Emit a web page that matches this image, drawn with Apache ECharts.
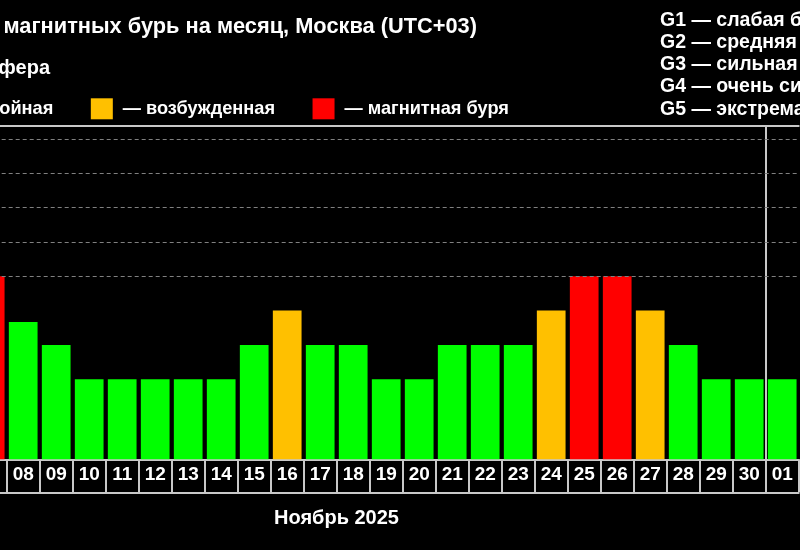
<!DOCTYPE html>
<html>
<head>
<meta charset="utf-8">
<script src="https://cdn.jsdelivr.net/npm/echarts@6/dist/echarts.min.js"></script>
<style>html,body{margin:0;padding:0;background:#000;}#chart{width:800px;height:550px;}</style>
</head>
<body>
<div id="chart"></div>
<script>
// Days shown (07 Nov .. 01 Dec)
const days = ['07','08','09','10','11','12','13','14','15','16','17','18','19','20','21','22','23','24','25','26','27','28','29','30','01'];
// Bar heights (index units)
const values = [5.33,4.0,3.33,2.33,2.33,2.33,2.33,2.33,3.33,4.33,3.33,3.33,2.33,2.33,3.33,3.33,3.33,4.33,5.33,5.33,4.33,3.33,2.33,2.33,2.33];
// State: 0 quiet, 1 active, 2 storm
const states = [2,0,0,0,0,0,0,0,0,1,0,0,0,0,0,0,0,1,2,2,1,0,0,0,0];
const stateNames = ['— спокойная','— возбужденная','— магнитная буря'];
const stateColors = ['#00ff00','#ffc000','#ff0000'];
// G-level reference lines
const gLevels = [5.33,6.33,7.33,8.33,9.33];
const gTexts = ['G1 — слабая буря','G2 — средняя буря','G3 — сильная буря','G4 — очень сильная буря','G5 — экстремальная буря'];
const titleText = 'Прогноз магнитных бурь на месяц, Москва (UTC+03)';
const subText = 'Магнитосфера';
const monthText = 'Ноябрь 2025';
// month boundary (index of first day of next month)
const monthBreak = days.indexOf('01');

const FONT = '"Liberation Sans", Arial, sans-serif';
const chart = echarts.init(document.getElementById('chart'));

const series = stateNames.map((name, s) => ({
  name: name,
  type: 'bar',
  xAxisIndex: 0,
  barGap: '-100%',
  barCategoryGap: '13%',
  itemStyle: { color: stateColors[s] },
  data: values.map((v, i) => states[i] === s ? v : '-'),
  animation: false,
  markLine: s === 0 ? {
    silent: true, symbol: 'none', label: { show: false },
    lineStyle: { color: '#808080', type: [4, 3], width: 1 },
    data: gLevels.map(v => ({ yAxis: v }))
  } : undefined
}));

const graphics = [
  { type: 'text', style: { text: titleText, x: 477, y: 27.2, textAlign: 'right', textVerticalAlign: 'middle', fill: '#fff', font: 'bold 21.8px ' + FONT } },
  { type: 'text', style: { text: subText, x: 50, y: 68.4, textAlign: 'right', textVerticalAlign: 'middle', fill: '#fff', font: 'bold 20px ' + FONT } },
  { type: 'text', style: { text: monthText, x: 336.5, y: 518, textAlign: 'center', textVerticalAlign: 'middle', fill: '#fff', font: 'bold 20px ' + FONT } }
].concat(gTexts.map((t, i) => ({
  type: 'text', style: { text: t, x: 660, y: 20.5 + i * 22.2, textAlign: 'left', textVerticalAlign: 'middle', fill: '#fff', font: 'bold 19.5px ' + FONT }
})));

chart.setOption({
  backgroundColor: '#000',
  animation: false,
  grid: { left: -26.3, right: 1.3, top: 125.5, bottom: 90.7, outerBoundsMode: 'none', containLabel: false },
  legend: {
    left: -102, top: 93.3, width: 900,
    itemWidth: 22, itemHeight: 21, itemGap: 37.5,
    icon: 'rect',
    data: stateNames,
    textStyle: { color: '#fff', fontSize: 18.2, fontWeight: 'bold', fontFamily: FONT, padding: [0, 0, 0, 5] }
  },
  xAxis: [
    {
      type: 'category', data: days, position: 'bottom',
      axisLine: { lineStyle: { color: '#c8c8c8', width: 2 } },
      axisTick: { show: true, interval: 0, length: 33, lineStyle: { color: '#c8c8c8', width: 2 } },
      axisLabel: { interval: 0, color: '#fff', fontSize: 19, fontWeight: 'bold', fontFamily: FONT, margin: 6 },
      splitLine: { show: false }
    },
    {
      type: 'category', data: days, position: 'bottom', offset: 33,
      axisLine: { lineStyle: { color: '#c8c8c8', width: 2 } },
      axisTick: { show: false }, axisLabel: { show: false }, splitLine: { show: false }
    },
    {
      type: 'value', position: 'top', min: 0, max: days.length, interval: monthBreak,
      axisLine: { show: true, lineStyle: { color: '#c8c8c8', width: 2 } },
      axisTick: { show: false }, axisLabel: { show: false },
      splitLine: { show: true, showMinLine: false, showMaxLine: false, lineStyle: { color: '#c8c8c8', width: 2 } }
    }
  ],
  yAxis: { type: 'value', min: 0, max: 9.72, show: false, splitLine: { show: false } },
  graphic: graphics,
  series: series
});
</script>
</body>
</html>
